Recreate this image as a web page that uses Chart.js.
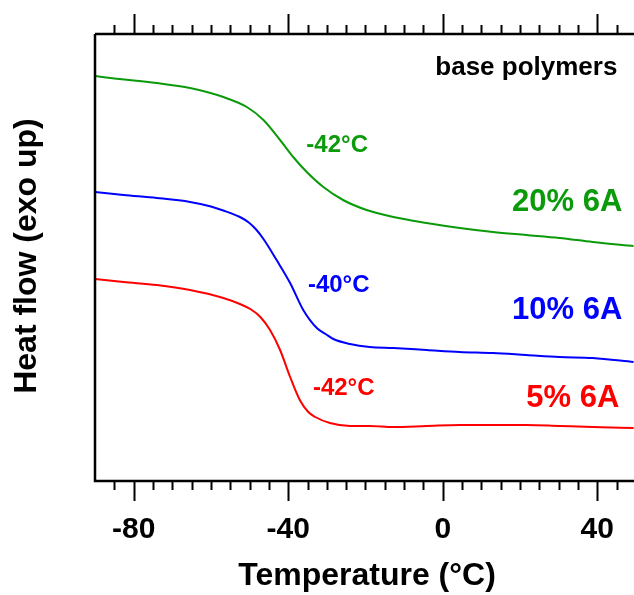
<!DOCTYPE html>
<html>
<head>
<meta charset="utf-8">
<script src="https://cdn.jsdelivr.net/npm/chart.js@4"></script>
<style>
  html, body { margin: 0; padding: 0; background: #fff; }
  canvas { display: block; }
</style>
</head>
<body>
<canvas id="dscChart" width="634" height="595"></canvas>
<script>
// DSC curves (heat flow, arbitrary units, exo up)
const temp20 = [-90, -86, -74, -65.4, -56.8, -50.7, -46.4, -42.1, -38.7, -35.2, -30.9, -25.8, -19.7, -12.8, -4.2, 4.4, 13, 21.6, 30.2, 38.8, 49.4];
const flow20 = [405, 403, 398, 393, 384, 374, 361, 341, 324, 309, 294, 281, 271, 264, 258, 253, 249, 246, 243, 239, 235];

const temp10 = [-90, -82.6, -74, -65.4, -60, -56.8, -52.5, -50.2, -48.3, -46.4, -43, -39.5, -36.1, -32.6, -30.3, -28.3, -24, -18.9, -12.8, -4.2, 4.4, 13, 21.6, 30.2, 38.8, 49.4];
const flow10 = [289, 286, 283, 279, 274.5, 270.5, 264, 258.5, 251.5, 242, 221, 198, 171, 153, 147, 142, 137, 134, 133, 131, 129, 128, 126, 124, 123, 119];

const temp5 = [-90, -82.6, -74, -65.4, -56.8, -52.5, -49.6, -47.2, -44.7, -42.1, -39.5, -37, -34.8, -33, -29.2, -24, -18.9, -12.8, -4.2, 4.4, 11.3, 21.6, 30.2, 38.8, 49.4];
const flow5 = [202, 199, 196, 191, 183, 177, 171.5, 164, 151, 131, 104, 81, 69, 64, 58, 55, 55, 54, 55, 56, 56, 56, 55, 54, 53];

const seriesNames = ["20% 6A", "10% 6A", "5% 6A"];
const glassTemps = ["-42°C", "-40°C", "-42°C"];
const xTickLabels = [-80, -40, 0, 40];

const colors = ["#0a9a0a", "#0000ff", "#ff0000"];

// punten maken voor Chart.js
function toPoints(xs, ys) {
  return xs.map((x, i) => ({ x: x, y: ys[i] }));
}

// tekst helper
function drawText(ctx, text, x, y, font, color, align) {
  ctx.save();
  ctx.font = font;
  ctx.fillStyle = color;
  ctx.textAlign = align;
  ctx.textBaseline = "middle";
  ctx.fillText(text, x, y);
  ctx.restore();
}

// assen, ticks, titels en labels tekenen
const axesPlugin = {
  id: "axesPlugin",
  afterDraw(chart) {
    const ctx = chart.ctx;
    const xs = chart.scales.x;
    const ys = chart.scales.y;
    const a = chart.chartArea;

    ctx.save();
    ctx.strokeStyle = "#000";
    ctx.lineWidth = 2.5;
    ctx.beginPath();
    ctx.moveTo(a.left, a.top);
    ctx.lineTo(a.right + 2, a.top);
    ctx.moveTo(a.left, a.top);
    ctx.lineTo(a.left, a.bottom);
    ctx.lineTo(a.right + 2, a.bottom);
    ctx.stroke();

    // minor ticks elke 5, major elke 40
    ctx.lineWidth = 2;
    for (let t = -85; t <= 50; t += 5) {
      const px = Math.round(xs.getPixelForValue(t)) + 0.5;
      const major = t % 40 === 0;
      const len = major ? 20 : 9;
      ctx.beginPath();
      ctx.moveTo(px, a.bottom);
      ctx.lineTo(px, a.bottom + len);
      ctx.moveTo(px, a.top);
      ctx.lineTo(px, a.top - len);
      ctx.stroke();
    }
    ctx.restore();

    xTickLabels.forEach((t) => {
      drawText(ctx, String(t), xs.getPixelForValue(t), a.bottom + 49, "bold 30px Arial, 'Liberation Sans'", "#000", "center");
    });

    drawText(ctx, "Temperature (°C)", 367, 576, "bold 32px Arial, 'Liberation Sans'", "#000", "center");

    ctx.save();
    ctx.translate(36, 256);
    ctx.rotate(-Math.PI / 2);
    ctx.font = "bold 32px Arial, 'Liberation Sans'";
    ctx.fillStyle = "#000";
    ctx.textAlign = "center";
    ctx.textBaseline = "alphabetic";
    ctx.fillText("Heat flow (exo up)", 0, 0);
    ctx.restore();

    // annotaties in data-coordinaten
    drawText(ctx, "base polymers", xs.getPixelForValue(45.2), ys.getPixelForValue(413), "bold 26px Arial, 'Liberation Sans'", "#000", "right");

    const tgPos = [[-35.3, 336], [-34.9, 196], [-33.6, 93]];
    const namePos = [[46.5, 279], [46.5, 171], [45.7, 83]];
    for (let i = 0; i < 3; i++) {
      drawText(ctx, glassTemps[i], xs.getPixelForValue(tgPos[i][0]), ys.getPixelForValue(tgPos[i][1]), "bold 24px Arial, 'Liberation Sans'", colors[i], "left");
      drawText(ctx, seriesNames[i], xs.getPixelForValue(namePos[i][0]), ys.getPixelForValue(namePos[i][1]), "bold 31px Arial, 'Liberation Sans'", colors[i], "right");
    }
  },
};

const ctx = document.getElementById("dscChart").getContext("2d");

new Chart(ctx, {
  type: "line",
  data: {
    datasets: [
      { label: seriesNames[0], data: toPoints(temp20, flow20), borderColor: colors[0] },
      { label: seriesNames[1], data: toPoints(temp10, flow10), borderColor: colors[1] },
      { label: seriesNames[2], data: toPoints(temp5, flow5), borderColor: colors[2] },
    ],
  },
  options: {
    responsive: false,
    animation: false,
    devicePixelRatio: 1,
    layout: { padding: { left: 95, top: 34, right: 0, bottom: 114 } },
    elements: {
      point: { radius: 0 },
      line: { borderWidth: 2, cubicInterpolationMode: "monotone", fill: false },
    },
    plugins: { legend: { display: false }, tooltip: { enabled: false } },
    scales: {
      x: { type: "linear", min: -90, max: 49.5, display: false },
      y: { type: "linear", min: 0, max: 447, display: false },
    },
  },
  plugins: [axesPlugin],
});
</script>
</body>
</html>
